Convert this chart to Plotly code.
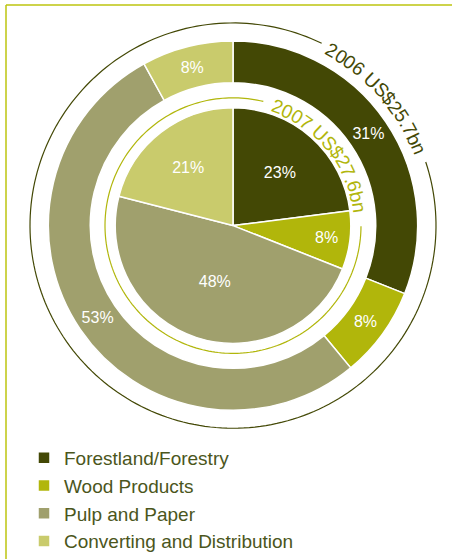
import math
import plotly.graph_objects as go

# ---- data ----
categories = ["Forestland/Forestry", "Wood Products", "Pulp and Paper", "Converting and Distribution"]
share_2006 = [31, 8, 53, 8]
share_2007 = [23, 8, 48, 21]
title_2006 = "2006 US$25.7bn"
title_2007 = "2007 US$27.6bn"

colors = ["#434805", "#b1b60b", "#a0a06d", "#c9cb6c"]
W, H = 457, 560
CX, CY = 233, 226          # pie centre in pixels (from top-left)
R_OUT, R_OUT_IN, R_IN = 185, 143, 118
R_ARC_OUT, R_ARC_IN = 203, 128
FONT = "Liberation Sans, Arial, sans-serif"

def px(x):
    return x / W

def py(y):
    return 1 - y / H

fig = go.Figure()
fig.add_trace(go.Pie(
    labels=categories, values=share_2006, sort=False, direction="clockwise", rotation=0,
    hole=R_OUT_IN / R_OUT,
    domain=dict(x=[px(CX - R_OUT), px(CX + R_OUT)], y=[py(CY + R_OUT), py(CY - R_OUT)]),
    marker=dict(colors=colors, line=dict(color="white", width=1.5)),
    texttemplate="%{value}%", textposition="inside", insidetextorientation="horizontal",
    textfont=dict(color="white", size=16, family=FONT),
    hoverinfo="skip", showlegend=True,
))
fig.add_trace(go.Pie(
    labels=categories, values=share_2007, sort=False, direction="clockwise", rotation=0,
    domain=dict(x=[px(CX - R_IN), px(CX + R_IN)], y=[py(CY + R_IN), py(CY - R_IN)]),
    marker=dict(colors=colors, line=dict(color="white", width=1.5)),
    texttemplate="%{value}%", textposition="inside", insidetextorientation="horizontal",
    textfont=dict(color="white", size=16, family=FONT),
    hoverinfo="skip", showlegend=True,
))

shapes = []

def arc_path(r, a0, a1, n=200):
    pts = []
    for i in range(n + 1):
        a = math.radians(a0 + (a1 - a0) * i / n)
        x = CX + r * math.sin(a)
        y = CY - r * math.cos(a)
        pts.append((px(x), py(y)))
    return "M " + " L ".join("%.5f,%.5f" % p for p in pts)

shapes.append(dict(type="path", xref="paper", yref="paper", path=arc_path(R_ARC_OUT, 71.7, 385.9),
                   line=dict(color="#434805", width=1.2)))
shapes.append(dict(type="path", xref="paper", yref="paper", path=arc_path(R_ARC_IN, 90.3, 373.7),
                   line=dict(color="#b1b60b", width=1.2)))
# frame lines (top and left)
shapes.append(dict(type="line", xref="paper", yref="paper", x0=px(6), x1=px(452), y0=py(5), y1=py(5),
                   line=dict(color="#bcc40f", width=1.5)))
shapes.append(dict(type="line", xref="paper", yref="paper", x0=px(6), x1=px(6), y0=py(5), y1=py(560),
                   line=dict(color="#bcc40f", width=1.5)))

# approximate Arial advance widths (em)
AW = {c: 0.556 for c in "0123456789$bn"}
AW.update({" ": 0.278, "U": 0.722, "S": 0.667, ".": 0.278})

annotations = []

def curved_text(text, r, a_first, a_last, color, size):
    adv = [AW.get(c, 0.556) for c in text]
    centers = []
    acc = 0
    for w in adv:
        centers.append(acc + w / 2)
        acc += w
    c0, c1 = centers[0], centers[-1]
    for ch, c in zip(text, centers):
        if ch == " ":
            continue
        a = a_first + (a_last - a_first) * (c - c0) / (c1 - c0)
        ar = math.radians(a)
        x = CX + r * math.sin(ar)
        y = CY - r * math.cos(ar)
        annotations.append(dict(x=px(x), y=py(y), xref="paper", yref="paper", text=ch, showarrow=False,
                                textangle=a, xanchor="center", yanchor="middle",
                                font=dict(color=color, size=size, family=FONT)))

curved_text(title_2006, 201, 29.5, 67.5, "#434805", 19)
curved_text(title_2007, 127, 20.5, 82.0, "#b1b60b", 19)

fig.update_layout(
    width=W, height=H, margin=dict(l=0, r=0, t=0, b=0),
    paper_bgcolor="white", plot_bgcolor="white",
    shapes=shapes, annotations=annotations,
    legend=dict(x=px(24), y=py(440), xanchor="left", yanchor="top", traceorder="normal",
                font=dict(size=19, color="#4b561c", family=FONT),
                bgcolor="rgba(0,0,0,0)"),
)

fig.write_html("out.html")
